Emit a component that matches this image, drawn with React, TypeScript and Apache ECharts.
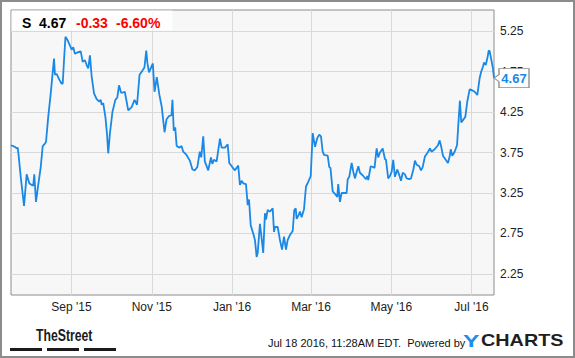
import React, { useEffect, useRef } from "react";
import * as echarts from "echarts";

// Days since Jul 17, 2015 (calendar days) for each traced point
const dayOffsets = [
  0, 3.0, 4.3, 5.1, 5.5, 7.4, 9.9, 11.9, 13.9, 15.7, 16.9, 17.7, 19.0, 20.7, 22.6, 24.1, 25.8, 26.6,
  28.3, 30.2, 31.4, 32.7, 33.4, 34.7, 36.7, 38.5, 39.3, 40.3, 41.4, 42.9, 44.3, 46.1, 47.3, 48.6,
  51.1, 53.0, 54.5, 56.2, 57.5, 58.7, 60.0, 61.3, 63.1, 65.1, 66.9, 68.2, 68.9, 70.1, 71.8, 73.0,
  73.9, 75.2, 77.1, 79.3, 80.8, 82.1, 83.6, 84.9, 86.5, 89.1, 91.7, 93.9, 95.8, 97.7, 100.2, 101.4,
  102.8, 103.7, 104.9, 106.2, 107.8, 109.1, 109.7, 110.8, 112.7, 114.6, 116.7, 118.2, 120.1, 122.0,
  122.7, 123.7, 124.8, 125.9, 128.1, 129.6, 130.9, 133.4, 135.9, 137.9, 139.8, 141.6, 143.5, 144.6,
  146.1, 147.3, 149.9, 152.0, 153.0, 154.3, 156.3, 158.8, 160.1, 162.6, 164.7, 165.9, 168.2, 170.2,
  171.5, 172.7, 174.0, 175.3, 176.5, 178.6, 179.9, 180.9, 182.2, 184.1, 185.4, 186.7, 187.5, 189.2,
  190.5, 191.7, 193.0, 193.8, 195.1, 196.8, 198.9, 199.9, 200.6, 202.7, 204.4, 206.0, 207.5, 209.0,
  210.3, 212.0, 214.1, 215.3, 216.4, 217.1, 218.7, 219.6, 220.9, 222.7, 224.2, 226.0, 227.8, 229.3,
  231.1, 232.8, 234.3, 235.6, 236.9, 237.9, 240.7, 241.9, 242.8, 244.5, 246.2, 248.0, 248.7, 250.0,
  251.3, 253.1, 255.1, 255.9, 257.1, 258.9, 260.2, 261.4, 262.7, 264.0, 265.2, 267.7, 269.8, 270.8,
  271.5, 273.4, 275.4, 276.3, 277.9, 279.1, 280.4, 282.5, 284.2, 285.0, 286.7, 288.0, 289.3, 290.5,
  291.8, 293.6, 294.9, 296.4, 297.7, 299.4, 300.7, 302.7, 304.0, 305.8, 307.0, 308.3, 310.3, 311.6,
  312.9, 314.6, 316.7, 318.4, 319.6, 322.0, 324.5, 325.8, 327.0, 328.3, 330.8, 332.1, 333.4, 334.2,
  335.4, 337.2, 339.0, 340.2, 341.2, 342.2, 343.5, 345.3, 346.8, 348.6, 350.4, 352.4, 354.4, 356.2,
  357.4, 358.7, 359.5, 360.8, 362.0, 363.1, 363.8, 365.0, 366.3, 367.1,
];

const prices = [
  3.84, 3.82, 3.80, 3.81, 3.76, 3.45, 3.09, 3.48, 3.37, 3.35, 3.34, 3.48, 3.14, 3.35, 3.57, 3.83, 3.86, 3.88,
  4.19, 4.48, 4.69, 4.91, 4.71, 4.72, 4.65, 4.60, 4.60, 4.89, 5.18, 5.14, 5.09, 5.02, 5.05, 4.97,
  4.99, 5.00, 4.87, 4.89, 4.83, 4.79, 4.95, 4.69, 4.48, 4.41, 4.38, 4.40, 4.34, 4.36, 4.18, 3.97,
  3.74, 3.99, 4.25, 4.40, 4.43, 4.58, 4.49, 4.49, 4.50, 4.27, 4.31, 4.40, 4.34, 4.71, 4.77, 4.80,
  5.01, 4.85, 4.74, 4.79, 4.85, 4.50, 4.56, 4.68, 4.47, 4.31, 4.00, 4.16, 4.20, 4.21,
  4.40, 4.02, 4.06, 3.83, 3.81, 3.83, 3.76, 3.72, 3.65, 3.54, 3.53, 3.57, 3.76, 3.69,
  3.95, 3.64, 3.53, 3.69, 3.61, 3.66, 3.64, 3.92, 3.81, 3.81, 3.85, 3.62, 3.57, 3.53,
  3.56, 3.59, 3.35, 3.40, 3.37, 3.36, 3.10, 3.17, 2.85, 2.75, 2.67, 2.46, 2.51, 2.87,
  2.69, 2.51, 3.00, 2.92, 3.04, 3.02, 3.06, 2.77, 2.83, 2.83, 2.67, 2.55, 2.71, 2.55,
  2.67, 2.73, 2.78, 3.04, 3.06, 2.93, 2.98, 3.02, 2.95, 3.05, 3.33, 3.39, 3.46, 3.99,
  3.82, 3.93, 3.97, 3.95, 3.76, 3.72, 3.71, 3.57, 3.56, 3.27, 3.24, 3.20, 3.36, 3.14,
  3.25, 3.25, 3.25, 3.42, 3.45, 3.62, 3.51, 3.43, 3.51, 3.58, 3.50, 3.46, 3.42, 3.46,
  3.41, 3.58, 3.57, 3.56, 3.80, 3.69, 3.75, 3.80, 3.67, 3.66, 3.43, 3.46, 3.51, 3.66,
  3.45, 3.54, 3.48, 3.40, 3.50, 3.48, 3.43, 3.42, 3.43, 3.54, 3.65, 3.60, 3.58, 3.53,
  3.57, 3.70, 3.75, 3.80, 3.76, 3.79, 3.84, 3.90, 3.82, 3.71, 3.65, 3.62, 3.70, 3.79,
  3.71, 3.76, 3.84, 4.15, 4.39, 4.12, 4.15, 4.19, 4.38, 4.53, 4.52, 4.50, 4.46, 4.67,
  4.75, 4.81, 4.86, 4.83, 4.91, 5.01, 5.00, 4.90, 4.79, 4.67,
];

const monthTickDays = [46, 107, 168, 228, 289, 350];
const monthTickLabels = ["Sep '15", "Nov '15", "Jan '16", "Mar '16", "May '16", "Jul '16"];
const priceTicks = [2.25, 2.75, 3.25, 3.75, 4.25, 4.75, 5.25];

const ticker = "S";
const lastPriceText = "4.67";
const changeText = "-0.33";
const changePctText = "-6.60%";
const timestampText = "Jul 18 2016, 11:28AM EDT.  Powered by";

const FONT = "'Liberation Sans', Arial, Helvetica, sans-serif";
const BLUE = "#1a88e6";

export default function App() {
  const ref = useRef<HTMLDivElement>(null);

  useEffect(() => {
    if (!ref.current) return;
    const chart = echarts.init(ref.current, null, { renderer: "svg" });
    const data = dayOffsets.map((d, i) => [d, prices[i]]);
    const lastDay = dayOffsets[dayOffsets.length - 1];
    const lastPrice = prices[prices.length - 1];

    chart.setOption({
      animation: false,
      backgroundColor: "#ffffff",
      grid: {
        left: 11,
        top: 10,
        right: 81,
        bottom: 63,
        show: true,
        backgroundColor: "#f7f7f7",
        borderColor: "#8c8c8c",
        borderWidth: 1,
      },
      xAxis: {
        type: "value",
        min: 0,
        max: lastDay,
        axisLine: { show: false },
        axisTick: { show: false, customValues: monthTickDays },
        axisLabel: {
          customValues: monthTickDays,
          formatter: (v: number) => {
            const i = monthTickDays.indexOf(v);
            return i >= 0 ? monthTickLabels[i] : "";
          },
          color: "#222",
          fontSize: 12,
          fontFamily: FONT,
          margin: 6,
        },
        splitLine: { show: true, lineStyle: { color: "#d9d9d9", width: 1 } },
      },
      yAxis: {
        type: "value",
        position: "right",
        min: 1.99,
        max: 5.51,
        axisLine: { show: false },
        axisTick: { show: false, customValues: priceTicks },
        axisLabel: {
          customValues: priceTicks,
          formatter: (v: number) => v.toFixed(2),
          color: "#222",
          fontSize: 12,
          fontFamily: FONT,
          margin: 6,
        },
        splitLine: { show: true, lineStyle: { color: "#d9d9d9", width: 1 } },
      },
      series: [
        {
          type: "line",
          data,
          showSymbol: false,
          silent: true,
          lineStyle: { color: BLUE, width: 1.8 },
          markPoint: {
            silent: true,
            symbol: "path://M0,9.5L5,6L5,0L35,0L35,19L5,19L5,13Z",
            symbolSize: [35, 19],
            symbolOffset: [17.5, 0],
            itemStyle: { color: "#ffffff", borderColor: "#8c8c8c", borderWidth: 1 },
            label: {
              show: true,
              position: "inside",
              formatter: lastPrice.toFixed(2),
              color: BLUE,
              fontWeight: "bold",
              fontSize: 13,
              fontFamily: FONT,
              offset: [2.5, 0],
            },
            data: [{ coord: [lastDay, lastPrice], value: lastPrice }],
          },
        },
      ],
      graphic: [
        {
          type: "rect",
          z: 100,
          shape: { x: 1, y: 1, width: 573, height: 356 },
          style: { fill: "none", stroke: "#8c8c8c", lineWidth: 2 },
        },
        {
          type: "rect",
          z: 50,
          shape: { x: 11.5, y: 10.5, width: 161, height: 20 },
          style: { fill: "rgba(255,255,255,0.8)" },
        },
        {
          type: "text",
          z: 60,
          x: 22,
          y: 23,
          style: { text: ticker, font: `bold 14px ${FONT}`, fill: "#000", verticalAlign: "middle" },
        },
        {
          type: "text",
          z: 60,
          x: 39,
          y: 23,
          style: { text: lastPriceText, font: `bold 14px ${FONT}`, fill: "#000", verticalAlign: "middle" },
        },
        {
          type: "text",
          z: 60,
          x: 76,
          y: 23,
          style: { text: changeText, font: `bold 14px ${FONT}`, fill: "#f00", verticalAlign: "middle" },
        },
        {
          type: "text",
          z: 60,
          x: 116,
          y: 23,
          style: { text: changePctText, font: `bold 14px ${FONT}`, fill: "#f00", verticalAlign: "middle" },
        },
        {
          type: "text",
          z: 60,
          x: 36,
          y: 335,
          scaleX: 0.72,
          style: { text: "TheStreet", font: `bold 17px ${FONT}`, fill: "#1a1a1a", verticalAlign: "middle" },
        },
        { type: "rect", z: 60, shape: { x: 10, y: 348, width: 32, height: 3 }, style: { fill: "#1a1a1a" } },
        { type: "rect", z: 60, shape: { x: 47, y: 348, width: 32, height: 3 }, style: { fill: "#1a1a1a" } },
        { type: "rect", z: 60, shape: { x: 84, y: 348, width: 32, height: 3 }, style: { fill: "#1a1a1a" } },
        {
          type: "text",
          z: 60,
          x: 268,
          y: 343,
          style: { text: timestampText, font: `11px ${FONT}`, fill: "#111", verticalAlign: "middle" },
        },
        {
          type: "text",
          z: 60,
          x: 463,
          y: 341,
          scaleX: 1.45,
          style: { text: "Y", font: `bold 17px ${FONT}`, fill: "#1a8ee8", verticalAlign: "middle" },
        },
        {
          type: "text",
          z: 60,
          x: 481,
          y: 341,
          scaleX: 1.2,
          style: { text: "CHARTS", font: `bold 16.5px ${FONT}`, fill: "#1f1f1f", verticalAlign: "middle" },
        },
      ],
    });

    return () => chart.dispose();
  }, []);

  return (
    <div
      ref={ref}
      style={{ position: "fixed", left: 0, top: 0, width: 575, height: 358, background: "#fff" }}
    />
  );
}
